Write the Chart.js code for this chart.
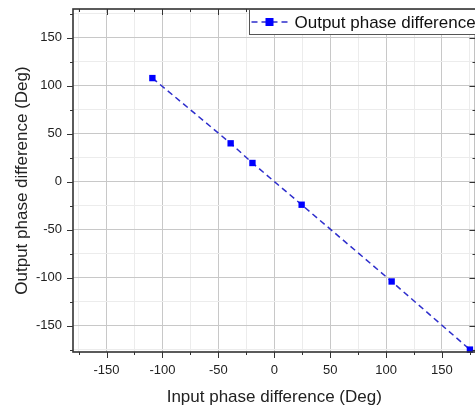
<!DOCTYPE html>
<html>
<head>
<meta charset="utf-8">
<script src="https://cdn.jsdelivr.net/npm/chart.js@4.4.0/dist/chart.umd.min.js"></script>
<style>
    html, body { margin: 0; padding: 0; background: #ffffff; overflow: hidden; }
    #wrap { width: 480px; height: 410px; }
</style>
</head>
<body>
<div id="wrap"><canvas id="chartPhase" width="480" height="410"></canvas></div>
<script>
// Datos
const inputPhase = [-109, -39, -19.5, 24.5, 105, 175];
const outputPhase = [108, 40, 19.5, -24, -104, -175];
const majorTicks = [-150, -100, -50, 0, 50, 100, 150];
const minorTicks = [-175, -125, -75, -25, 25, 75, 125, 175];
const seriesName = 'Output phase difference';
const xTitle = 'Input phase difference (Deg)';
const yTitle = 'Output phase difference (Deg)';

const FONT = "'Liberation Sans', Arial, sans-serif";
const LINE_COLOR = '#2e2ecc';
const MARK_COLOR = '#0000ff';
const allTicks = [...majorTicks, ...minorTicks].sort((a, b) => a - b);

const gridColor = ctx => majorTicks.includes(ctx.tick && ctx.tick.value) ? '#c8c8c8' : '#ececec';

// Marco, marcas de eje y leyenda (estilo Origin)
const framePlugin = {
    id: 'frame',
    afterDraw(chart) {
        const { ctx, chartArea: a, scales } = chart;
        ctx.save();
        ctx.strokeStyle = '#333';
        ctx.lineWidth = 1;
        allTicks.forEach(v => {
            const len = majorTicks.includes(v) ? 6 : 3;
            const x = Math.round(scales.x.getPixelForValue(v)) + 0.5;
            const y = Math.round(scales.y.getPixelForValue(v)) + 0.5;
            ctx.beginPath();
            ctx.moveTo(x, a.bottom); ctx.lineTo(x, a.bottom + len);
            ctx.moveTo(x, a.top); ctx.lineTo(x, a.top + len);
            ctx.moveTo(a.left - len, y); ctx.lineTo(a.left, y);
            ctx.moveTo(a.right, y); ctx.lineTo(a.right - len, y);
            ctx.stroke();
        });
        ctx.lineWidth = 1.6;
        ctx.strokeRect(a.left, a.top, a.right - a.left, a.bottom - a.top);

        // leyenda
        const lx = 249.5, ly = a.top + 0.5, lh = 25;
        ctx.fillStyle = '#ffffff';
        ctx.fillRect(lx, ly, 300, lh);
        ctx.lineWidth = 1;
        ctx.strokeStyle = '#555';
        ctx.strokeRect(lx, ly, 300, lh);
        const cy = ly + lh / 2;
        ctx.strokeStyle = LINE_COLOR;
        ctx.lineWidth = 1.5;
        ctx.setLineDash([6, 4]);
        ctx.beginPath();
        ctx.moveTo(lx + 2, cy); ctx.lineTo(lx + 42, cy);
        ctx.stroke();
        ctx.setLineDash([]);
        ctx.fillStyle = MARK_COLOR;
        ctx.fillRect(lx + 16, cy - 4, 8, 8);
        ctx.fillStyle = '#111';
        ctx.font = '17px ' + FONT;
        ctx.textBaseline = 'middle';
        ctx.textAlign = 'left';
        ctx.fillText(seriesName, lx + 45, cy + 1);
        ctx.restore();
    }
};

const ctx = document.getElementById('chartPhase');
new Chart(ctx, {
    type: 'scatter',
    data: {
        datasets: [{
            label: seriesName,
            data: inputPhase.map((x, i) => ({ x: x, y: outputPhase[i] })),
            showLine: true,
            borderColor: LINE_COLOR,
            borderWidth: 1.5,
            borderDash: [6, 4],
            pointStyle: 'rect',
            pointRadius: 4.5,
            pointBackgroundColor: MARK_COLOR,
            pointBorderColor: MARK_COLOR,
            pointBorderWidth: 0,
            clip: false
        }]
    },
    options: {
        responsive: false,
        animation: false,
        devicePixelRatio: 1,
        layout: { padding: { top: 9, right: 3.4, left: 0, bottom: 0 } },
        plugins: {
            legend: { display: false },
            tooltip: { enabled: false }
        },
        scales: {
            x: {
                type: 'linear',
                min: -180,
                max: 180,
                afterBuildTicks: scale => { scale.ticks = allTicks.map(v => ({ value: v })); },
                afterFit: scale => {
                    scale.height = 58;
                    scale.paddingLeft = 0;
                    scale.paddingRight = 0;
                },
                border: { display: false },
                grid: { color: gridColor, lineWidth: 1, drawTicks: false },
                ticks: {
                    autoSkip: false,
                    maxRotation: 0,
                    padding: 11,
                    color: '#222',
                    font: { family: FONT, size: 13 },
                    callback: value => majorTicks.includes(value) ? String(value) : ''
                },
                title: {
                    display: true,
                    text: xTitle,
                    color: '#222',
                    font: { family: FONT, size: 17 },
                    padding: { top: 0, bottom: 2 }
                }
            },
            y: {
                type: 'linear',
                min: -177.5,
                max: 180,
                afterBuildTicks: scale => { scale.ticks = allTicks.map(v => ({ value: v })); },
                afterFit: scale => {
                    scale.width = 73;
                    scale.paddingTop = 0;
                    scale.paddingBottom = 0;
                },
                border: { display: false },
                grid: { color: gridColor, lineWidth: 1, drawTicks: false },
                ticks: {
                    autoSkip: false,
                    padding: 11,
                    color: '#222',
                    font: { family: FONT, size: 13 },
                    callback: value => majorTicks.includes(value) ? String(value) : ''
                },
                title: {
                    display: true,
                    text: yTitle,
                    color: '#222',
                    font: { family: FONT, size: 17 },
                    padding: { top: 12, bottom: 0 }
                }
            }
        }
    },
    plugins: [framePlugin]
});
</script>
</body>
</html>
